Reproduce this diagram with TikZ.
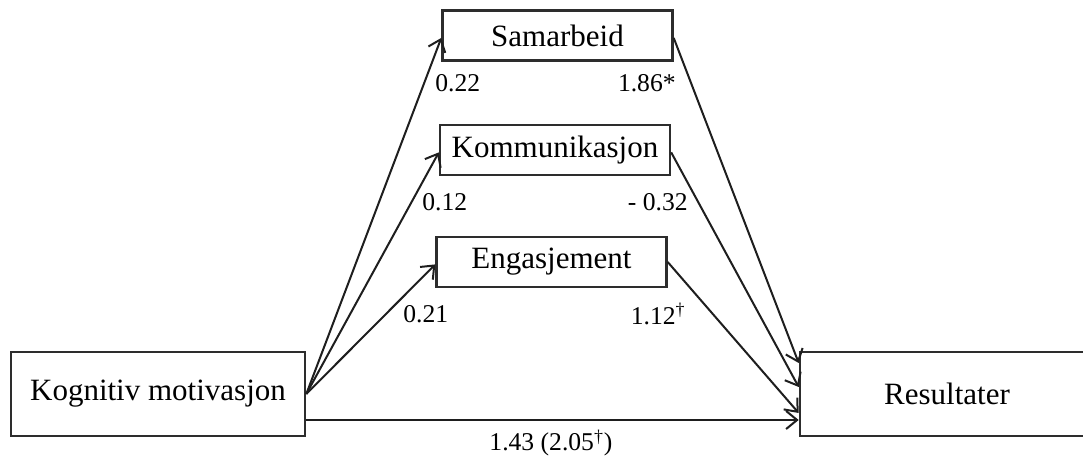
\documentclass[tikz,border=0pt]{standalone}
\usepackage{fontspec}
\setmainfont{Liberation Serif}
\usepackage{tikz}
\usetikzlibrary{positioning, arrows.meta}
\definecolor{boxline}{RGB}{45,45,45}
\definecolor{arrowline}{RGB}{30,30,30}

\begin{document}
\begin{tikzpicture}[
    x=0.5pt, y=-0.5pt,
    every node/.style={font=\fontsize{15.5}{18}\selectfont},
    mediator/.style={
        rectangle,
        draw=boxline,
        line width=1.2pt,
        align=center,
        minimum width=115pt,
        minimum height=25pt,
        fill=white
    },
    mainbox/.style={
        rectangle,
        draw=boxline,
        line width=1.3pt,
        align=center,
        minimum width=147pt,
        minimum height=42pt,
        fill=white
    },
    coef/.style={font=\fontsize{12.8}{15}\selectfont, inner sep=0pt},
    arrow/.style={-{Straight Barb[length=5.5pt, width=9pt, line width=1pt]}, line width=1pt, draw=arrowline}
]
\useasboundingbox (0,0) rectangle (1083,459);

\node[mainbox] (kog) at (158,394) {Kognitiv motivasjon};
\node[mainbox] (res) at (947,394) {Resultater};
\node[mediator] (sam) at (557.5,35.5) {Samarbeid};
\node[mediator] (kom) at (555,150) {Kommunikasjon};
\node[mediator] (eng) at (551.5,262) {Engasjement};

% a-paths
\draw[arrow] (kog.east) -- ([yshift=-1.2pt]sam.west);
\draw[arrow] (kog.east) -- ([yshift=-1.2pt]kom.west);
\draw[arrow] (kog.east) -- ([yshift=-1.2pt]eng.west);

% b-paths
\draw[arrow] ([yshift=-1.2pt]sam.east) -- ([yshift=15.5pt]res.west);
\draw[arrow] ([yshift=-1.2pt]kom.east) -- ([yshift=3.5pt]res.west);
\draw[arrow] (eng.east) -- ([yshift=-9.5pt]res.west);

% direct path
\draw[arrow] ([yshift=-13pt]kog.east) -- ([yshift=-13pt]res.west);

\node[coef, anchor=west] (asam) at (435,83) {0.22};
\node[coef, anchor=east] (bsam) at (676,83) {1.86*};
\node[coef, anchor=west] (akom) at (422,202) {0.12};
\node[coef, anchor=east] (bkom) at (688,202) {- 0.32};
\node[coef, anchor=west] (aeng) at (403,314) {0.21};
\node[coef, anchor=east] (beng) at (686,314) {1.12\textsuperscript{\textdagger}};
\node[coef] (direct) at (551,443) {1.43 (2.05\textsuperscript{\textdagger})};

\end{tikzpicture}
\end{document}
